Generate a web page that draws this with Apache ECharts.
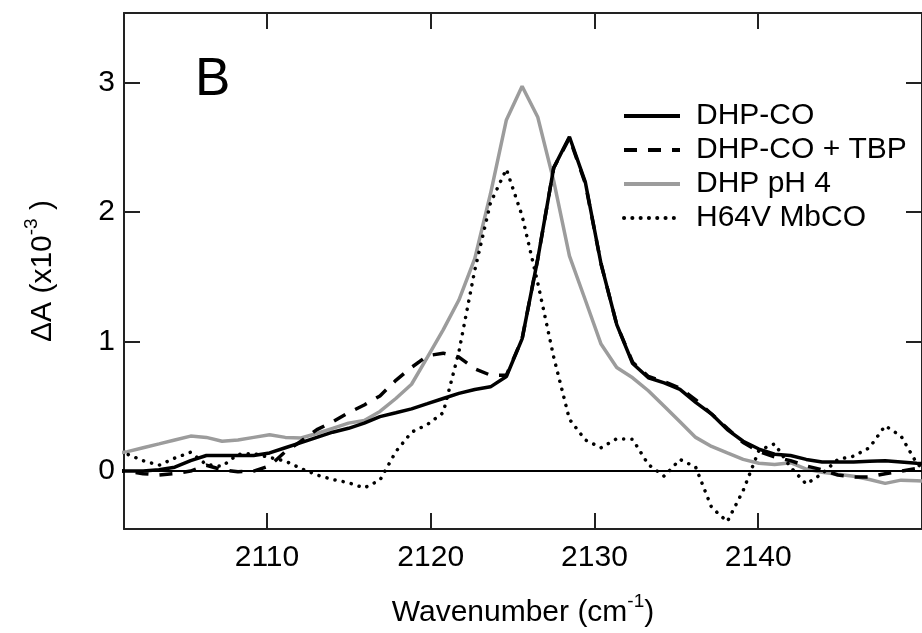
<!DOCTYPE html>
<html>
<head>
<meta charset="utf-8">
<script src="https://cdn.jsdelivr.net/npm/echarts@6/dist/echarts.min.js"></script>
<style>
html,body{margin:0;padding:0;background:#fff;}
#chart{width:922px;height:633px;}
</style>
</head>
<body>
<div id="chart"></div>
<script>
// ---- data ----
const wavenumber = [2100.52, 2101.48, 2102.44, 2103.41, 2104.37, 2105.34, 2106.30, 2107.26, 2108.23, 2109.19,
  2110.16, 2111.12, 2112.08, 2113.05, 2114.01, 2114.98, 2115.94, 2116.90, 2117.87, 2118.83,
  2119.80, 2120.76, 2121.72, 2122.69, 2123.65, 2124.62, 2125.58, 2126.54, 2127.51, 2128.47,
  2129.44, 2130.40, 2131.36, 2132.33, 2133.29, 2134.26, 2135.22, 2136.18, 2137.15, 2138.11,
  2139.08, 2140.04, 2141.00, 2141.97, 2142.93, 2143.90, 2144.86, 2145.82, 2146.79, 2147.75,
  2148.72, 2149.68, 2150.64];

const dhpCO = [0.0, 0.0, 0.0, 0.01, 0.03, 0.08, 0.12, 0.12, 0.12, 0.12,
  0.14, 0.18, 0.22, 0.26, 0.30, 0.33, 0.37, 0.42, 0.45, 0.48,
  0.52, 0.56, 0.60, 0.63, 0.65, 0.73, 1.02, 1.64, 2.34, 2.58,
  2.23, 1.60, 1.13, 0.83, 0.72, 0.68, 0.63, 0.53, 0.44, 0.32,
  0.23, 0.17, 0.13, 0.12, 0.09, 0.07, 0.07, 0.07, 0.075, 0.08,
  0.07, 0.06, 0.055];

const dhpCOTBP = [0.0, 0.0, -0.02, -0.03, -0.02, 0.0, 0.045, 0.01, -0.005, 0.0,
  0.04, 0.15, 0.23, 0.32, 0.38, 0.45, 0.51, 0.58, 0.70, 0.80,
  0.89, 0.91, 0.88, 0.79, 0.74, 0.74, 1.02, 1.64, 2.34, 2.57,
  2.22, 1.60, 1.13, 0.84, 0.73, 0.69, 0.64, 0.55, 0.44, 0.33,
  0.22, 0.15, 0.11, 0.08, 0.04, 0.01, -0.03, -0.045, -0.045, -0.02,
  0.0, 0.02, 0.02];

const dhpPH4 = [0.13, 0.15, 0.18, 0.21, 0.24, 0.27, 0.26, 0.23, 0.24, 0.26,
  0.28, 0.26, 0.255, 0.29, 0.33, 0.37, 0.39, 0.46, 0.56, 0.67,
  0.88, 1.09, 1.32, 1.64, 2.14, 2.71, 2.97, 2.73, 2.24, 1.66,
  1.32, 0.98, 0.80, 0.72, 0.62, 0.50, 0.38, 0.26, 0.19, 0.14,
  0.09, 0.06, 0.05, 0.065, 0.015, -0.01, -0.025, -0.04, -0.065, -0.095,
  -0.07, -0.075, -0.08];

const h64vMbCO = [0.14, 0.13, 0.08, 0.045, 0.10, 0.145, 0.05, 0.037, 0.13, 0.135,
  0.105, 0.077, 0.02, -0.03, -0.065, -0.09, -0.13, -0.07, 0.15, 0.30,
  0.36, 0.45, 0.92, 1.55, 2.07, 2.33, 1.97, 1.45, 0.88, 0.40,
  0.24, 0.18, 0.25, 0.245, 0.05, -0.04, 0.09, 0.03, -0.28, -0.39,
  -0.15, 0.16, 0.21, 0.03, -0.10, -0.02, 0.09, 0.115, 0.18, 0.35,
  0.27, 0.06, -0.05];

const seriesNames = ['DHP-CO', 'DHP-CO + TBP', 'DHP pH 4', 'H64V MbCO'];
const xTickLabels = [2110, 2120, 2130, 2140];
const yTickLabels = [0, 1, 2, 3];
const xRange = [2101.27, 2150.0];
const yRange = [-0.447, 3.535];

// ---- chart ----
const FONT = '"Liberation Sans", Arial, Helvetica, sans-serif';
const pairs = arr => wavenumber.map((w, i) => [w, arr[i]]);
const chart = echarts.init(document.getElementById('chart'), null, {renderer: 'canvas'});

const axisCommon = {
  axisLine: {show: true, onZero: false, lineStyle: {color: '#222', width: 2}},
  axisTick: {show: true, inside: true, length: 16, lineStyle: {color: '#222', width: 2}},
  splitLine: {show: false}
};

const option = {
  animation: false,
  backgroundColor: '#fff',
  grid: {left: 124, right: -7, top: 13, bottom: 97, containLabel: false},
  graphic: [{
    type: 'text', left: 195, top: 54,
    style: {text: 'B', fontSize: 53, fontFamily: FONT, fill: '#000'}
  }],
  legend: {
    orient: 'vertical', left: 622, top: 101, padding: 0,
    itemWidth: 56, itemHeight: 30, itemGap: 4,
    data: seriesNames,
    itemStyle: {opacity: 0},
    lineStyle: {width: 4},
    textStyle: {fontSize: 30, fontFamily: FONT, color: '#000', padding: [0, 0, 0, 11]}
  },
  xAxis: [
    Object.assign({
      type: 'value', position: 'bottom', min: xRange[0], max: xRange[1], splitNumber: 5,
      name: '{n|Wavenumber (cm}{s|-1}{n|)}', nameLocation: 'middle', nameGap: 63,
      nameTextStyle: {rich: {
        n: {fontSize: 30, fontFamily: FONT, color: '#000', padding: [6, 0, 0, 0], verticalAlign: 'bottom'},
        s: {fontSize: 19, fontFamily: FONT, color: '#000', verticalAlign: 'top'}
      }},
      axisLabel: {show: true, showMinLabel: false, showMaxLabel: false, margin: 14, fontSize: 30, fontFamily: FONT, color: '#000',
        formatter: v => xTickLabels.indexOf(Math.round(v)) >= 0 && Math.abs(v - Math.round(v)) < 1e-6 ? String(Math.round(v)) : ''}
    }, axisCommon),
    Object.assign({
      type: 'value', position: 'top', min: xRange[0], max: xRange[1], splitNumber: 5,
      axisLabel: {show: false}
    }, axisCommon)
  ],
  yAxis: [
    Object.assign({
      type: 'value', position: 'left', min: yRange[0], max: yRange[1], splitNumber: 4,
      name: '{n|ΔA (x10}{s|-3}{n| )}', nameLocation: 'middle', nameGap: 66, nameRotate: 90,
      nameTextStyle: {rich: {
        n: {fontSize: 30, fontFamily: FONT, color: '#000', padding: [6, 0, 0, 0], verticalAlign: 'bottom'},
        s: {fontSize: 19, fontFamily: FONT, color: '#000', verticalAlign: 'top'}
      }},
      axisLabel: {show: true, showMinLabel: false, showMaxLabel: false, margin: 9, fontSize: 30, fontFamily: FONT, color: '#000',
        formatter: v => yTickLabels.indexOf(Math.round(v)) >= 0 && Math.abs(v - Math.round(v)) < 1e-6 ? String(Math.round(v)) : ''}
    }, axisCommon),
    Object.assign({
      type: 'value', position: 'right', min: yRange[0], max: yRange[1], splitNumber: 4,
      axisLabel: {show: false}
    }, axisCommon)
  ],
  series: [
    {
      name: seriesNames[0], type: 'line', data: pairs(dhpCO), symbol: 'none', z: 5,
      lineStyle: {color: '#000', width: 3.5, type: 'solid'}, itemStyle: {color: '#000'}
    },
    {
      name: seriesNames[1], type: 'line', data: pairs(dhpCOTBP), symbol: 'none', z: 4,
      lineStyle: {color: '#000', width: 3.5, type: [13, 11]}, itemStyle: {color: '#000'}
    },
    {
      name: seriesNames[2], type: 'line', data: pairs(dhpPH4), symbol: 'none', z: 3,
      lineStyle: {color: '#9c9c9c', width: 3.5, type: 'solid'}, itemStyle: {color: '#9c9c9c'},
      markLine: {
        silent: true, symbol: ['none', 'none'], label: {show: false}, animation: false,
        lineStyle: {color: '#000', width: 2, type: 'solid'},
        data: [{yAxis: 0}]
      }
    },
    {
      name: seriesNames[3], type: 'line', data: pairs(h64vMbCO), symbol: 'none', z: 4,
      lineStyle: {color: '#000', width: 3.5, type: [0.1, 8.2], cap: 'round'}, itemStyle: {color: '#000'}
    }
  ]
};
chart.setOption(option);
</script>
</body>
</html>
